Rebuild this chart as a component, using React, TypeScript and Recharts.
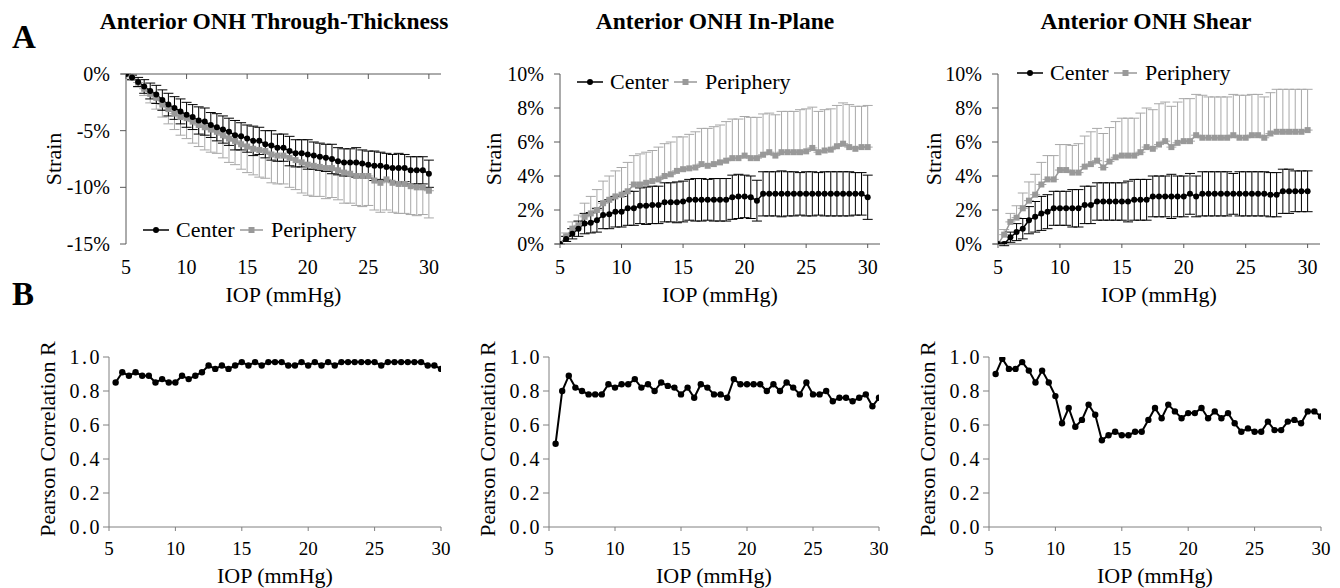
import React from 'react';
import { LineChart, Line, XAxis, YAxis, ErrorBar, Label } from 'recharts';

const FONT = 'Liberation Serif, DejaVu Serif, serif';
const GRAY = '#999999';
const GRAY_ERR = '#a8a8a8';
const AXIS_A = '#595959';
const AXIS_B = '#808080';

// IOP steps (mmHg) for the strain curves
const iop = [
  5, 5.5, 6, 6.5, 7, 7.5, 8, 8.5, 9, 9.5,
  10, 10.5, 11, 11.5, 12, 12.5, 13, 13.5, 14, 14.5,
  15, 15.5, 16, 16.5, 17, 17.5, 18, 18.5, 19, 19.5,
  20, 20.5, 21, 21.5, 22, 22.5, 23, 23.5, 24, 24.5,
  25, 25.5, 26, 26.5, 27, 27.5, 28, 28.5, 29, 29.5,
  30,
];
// IOP steps for the correlation curves
const iopR = [
  5.5, 6, 6.5, 7, 7.5, 8, 8.5, 9, 9.5, 10,
  10.5, 11, 11.5, 12, 12.5, 13, 13.5, 14, 14.5, 15,
  15.5, 16, 16.5, 17, 17.5, 18, 18.5, 19, 19.5, 20,
  20.5, 21, 21.5, 22, 22.5, 23, 23.5, 24, 24.5, 25,
  25.5, 26, 26.5, 27, 27.5, 28, 28.5, 29, 29.5, 30,
];

const iopTicks = [5, 10, 15, 20, 25, 30];
const thickTicks = [-15, -10, -5, 0];
const pctTicks = [0, 2, 4, 6, 8, 10];
const rTicks = [0, 0.2, 0.4, 0.6, 0.8, 1];

// through-thickness strain (%)
const thickCenter = [
  0, -0.3, -0.7, -1.1, -1.5, -1.8, -2.3, -2.7, -3.0, -3.3,
  -3.6, -3.8, -4.1, -4.2, -4.5, -4.7, -4.9, -5.1, -5.4, -5.5,
  -5.7, -5.9, -5.9, -6.2, -6.3, -6.5, -6.5, -6.8, -7.0, -7.0,
  -7.1, -7.2, -7.3, -7.4, -7.5, -7.7, -7.8, -7.8, -7.8, -7.9,
  -8.0, -8.1, -8.1, -8.2, -8.3, -8.3, -8.3, -8.5, -8.5, -8.5,
  -8.8,
];
const thickCenterSd = [
  0, 0.2, 0.4, 0.6, 0.7, 0.8, 0.9, 1.0, 1.0, 1.1,
  1.1, 1.1, 1.2, 1.2, 1.1, 1.2, 1.2, 1.2, 1.3, 1.2,
  1.2, 1.3, 1.2, 1.2, 1.3, 1.2, 1.2, 1.3, 1.2, 1.2,
  1.3, 1.2, 1.2, 1.2, 1.3, 1.2, 1.2, 1.2, 1.3, 1.2,
  1.2, 1.3, 1.2, 1.2, 1.2, 1.3, 1.2, 1.2, 1.2, 1.2,
  1.2,
];
const thickPeriph = [
  0, -0.35, -0.75, -1.3, -1.75, -2.1, -2.7, -3.1, -3.5, -3.8,
  -3.9, -4.2, -4.5, -4.7, -4.9, -5.1, -5.4, -5.7, -5.9, -6.2,
  -6.4, -6.6, -6.7, -6.8, -7.1, -7.2, -7.2, -7.4, -7.6, -7.8,
  -8.0, -8.1, -8.2, -8.3, -8.3, -8.5, -8.7, -8.8, -9.0, -9.0,
  -9.0, -9.4, -9.6, -9.3, -9.6, -9.7, -9.7, -9.9, -10.0, -10.0,
  -10.3,
];
const thickPeriphSd = [
  0, 0.2, 0.4, 0.6, 0.8, 1.0, 1.1, 1.3, 1.4, 1.6,
  1.8, 1.9, 1.9, 2.0, 2.0, 1.9, 2.0, 2.1, 2.1, 2.2,
  2.3, 2.3, 2.4, 2.4, 2.5, 2.5, 2.5, 2.6, 2.6, 2.7,
  2.7, 2.7, 2.6, 2.7, 2.6, 2.6, 2.7, 2.6, 2.6, 2.7,
  2.6, 2.6, 2.6, 2.7, 2.6, 2.6, 2.6, 2.5, 2.5, 2.4,
  2.4,
];

// in-plane strain (%)
const planeCenter = [
  0, 0.3, 0.6, 0.9, 1.2, 1.25, 1.4, 1.7, 1.75, 1.9,
  1.9, 2.1, 2.1, 2.25, 2.25, 2.3, 2.3, 2.45, 2.45, 2.45,
  2.5, 2.6, 2.6, 2.6, 2.6, 2.6, 2.6, 2.6, 2.75, 2.8,
  2.8, 2.75, 2.55, 2.95, 2.95, 2.95, 2.95, 2.95, 2.95, 2.95,
  2.95, 2.95, 2.95, 2.95, 2.95, 2.95, 2.95, 2.95, 2.95, 2.95,
  2.75,
];
const planeCenterSd = [
  0, 0.15, 0.3, 0.45, 0.6, 0.6, 0.7, 0.8, 0.85, 0.9,
  0.9, 1.0, 1.0, 1.05, 1.1, 1.1, 1.1, 1.15, 1.15, 1.2,
  1.2, 1.2, 1.25, 1.25, 1.2, 1.25, 1.25, 1.25, 1.3, 1.3,
  1.25, 1.25, 1.2, 1.3, 1.3, 1.3, 1.35, 1.3, 1.3, 1.25,
  1.3, 1.3, 1.25, 1.3, 1.3, 1.3, 1.3, 1.3, 1.25, 1.25,
  1.3,
];
const planePeriph = [
  0, 0.45, 0.9, 1.1, 1.6, 1.8, 2.0, 2.4, 2.6, 2.8,
  2.9, 3.1, 3.5, 3.5, 3.6, 3.7, 3.8, 4.0, 4.1, 4.3,
  4.4, 4.45, 4.5, 4.7, 4.6, 4.7, 4.8, 4.9, 5.05, 5.05,
  5.2, 5.05, 5.05, 5.25, 5.4, 5.2, 5.4, 5.4, 5.4, 5.4,
  5.45, 5.65, 5.4, 5.5, 5.55, 5.75, 5.9, 5.7, 5.6, 5.7,
  5.7,
];
const planePeriphSd = [
  0, 0.2, 0.4, 0.6, 0.8, 1.0, 1.2, 1.3, 1.4, 1.5,
  1.6, 1.7, 1.7, 1.8, 1.8, 1.8, 1.9, 1.9, 1.9, 2.0,
  1.9, 2.0, 2.1, 2.1, 2.2, 2.2, 2.2, 2.3, 2.3, 2.3,
  2.3, 2.4, 2.4, 2.4, 2.3, 2.4, 2.4, 2.4, 2.4, 2.5,
  2.5, 2.4, 2.4, 2.4, 2.4, 2.4, 2.4, 2.5, 2.5, 2.4,
  2.45,
];

// shear strain (%)
const shearCenter = [
  0, 0, 0.4, 0.7, 0.9, 1.4, 1.6, 1.8, 1.9, 2.1,
  2.1, 2.1, 2.1, 2.1, 2.3, 2.3, 2.5, 2.5, 2.5, 2.5,
  2.5, 2.5, 2.6, 2.6, 2.6, 2.8, 2.8, 2.8, 2.8, 2.8,
  2.8, 2.95, 2.8, 2.95, 2.95, 2.95, 2.95, 2.95, 2.95, 2.95,
  2.95, 2.95, 2.95, 2.95, 2.9, 2.9, 3.1, 3.1, 3.1, 3.1,
  3.1,
];
const shearCenterSd = [
  0, 0.1, 0.3, 0.5, 0.6, 0.8, 0.9, 1.0, 1.0, 1.0,
  1.0, 1.0, 1.1, 1.1, 1.1, 1.1, 1.1, 1.1, 1.1, 1.1,
  1.1, 1.2, 1.2, 1.2, 1.2, 1.2, 1.2, 1.2, 1.3, 1.2,
  1.2, 1.2, 1.2, 1.3, 1.3, 1.3, 1.3, 1.3, 1.2, 1.3,
  1.3, 1.3, 1.3, 1.3, 1.3, 1.3, 1.3, 1.3, 1.2, 1.2,
  1.2,
];
const shearPeriph = [
  0, 0.55, 1.3, 1.55, 2.1, 2.55, 2.9, 3.5, 3.8, 3.8,
  4.35, 4.35, 4.2, 4.2, 4.55, 4.7, 4.9, 4.5, 4.85, 5.1,
  5.2, 5.2, 5.2, 5.4, 5.7, 5.6, 5.85, 6.05, 5.7, 5.95,
  6.05, 6.05, 6.4, 6.25, 6.25, 6.25, 6.25, 6.25, 6.4, 6.25,
  6.25, 6.4, 6.4, 6.25, 6.5, 6.6, 6.6, 6.6, 6.6, 6.6,
  6.7,
];
const shearPeriphSd = [
  0, 0.3, 0.5, 0.7, 0.9, 1.1, 1.2, 1.3, 1.4, 1.4,
  1.5, 1.5, 1.6, 1.7, 1.8, 1.9, 1.9, 2.0, 2.0, 2.1,
  2.2, 2.2, 2.2, 2.3, 2.3, 2.3, 2.4, 2.3, 2.4, 2.4,
  2.5, 2.5, 2.4, 2.5, 2.4, 2.4, 2.4, 2.4, 2.4, 2.5,
  2.5, 2.4, 2.4, 2.4, 2.4, 2.5, 2.5, 2.5, 2.5, 2.5,
  2.4,
];

// Pearson correlation R (center vs periphery)
const rThick = [
  0.85, 0.91, 0.89, 0.91, 0.89, 0.89, 0.85, 0.87, 0.85, 0.85,
  0.89, 0.87, 0.89, 0.91, 0.95, 0.93, 0.95, 0.93, 0.95, 0.97,
  0.95, 0.97, 0.95, 0.97, 0.97, 0.97, 0.95, 0.95, 0.97, 0.95,
  0.97, 0.95, 0.97, 0.95, 0.97, 0.97, 0.97, 0.97, 0.97, 0.97,
  0.95, 0.97, 0.97, 0.97, 0.97, 0.97, 0.97, 0.95, 0.95, 0.93,
];
const rPlane = [
  0.49, 0.80, 0.89, 0.82, 0.80, 0.78, 0.78, 0.78, 0.84, 0.82,
  0.84, 0.84, 0.87, 0.82, 0.84, 0.80, 0.85, 0.83, 0.82, 0.78,
  0.82, 0.76, 0.84, 0.82, 0.78, 0.78, 0.76, 0.87, 0.84, 0.84,
  0.84, 0.84, 0.80, 0.84, 0.80, 0.85, 0.82, 0.78, 0.85, 0.78,
  0.78, 0.80, 0.74, 0.76, 0.76, 0.74, 0.76, 0.78, 0.71, 0.76,
];
const rShear = [
  0.90, 0.99, 0.93, 0.93, 0.97, 0.92, 0.85, 0.92, 0.85, 0.77,
  0.61, 0.70, 0.59, 0.63, 0.72, 0.66, 0.51, 0.54, 0.56, 0.54,
  0.54, 0.56, 0.56, 0.63, 0.70, 0.64, 0.72, 0.68, 0.64, 0.67,
  0.67, 0.70, 0.64, 0.68, 0.64, 0.67, 0.61, 0.56, 0.58, 0.56,
  0.56, 0.62, 0.57, 0.57, 0.62, 0.63, 0.61, 0.68, 0.68, 0.65,
];

const strainRows = (c: number[], cSd: number[], p: number[], pSd: number[], down: boolean) =>
  iop.map((x, i) => ({ x, c: c[i], cErr: cSd[i], p: p[i], pErr: down ? [pSd[i], 0] : [0, pSd[i]] }));
const corrRows = (r: number[]) => iopR.map((x, i) => ({ x, r: r[i] }));

const SquareDot = (props: any) => {
  const { cx, cy, index } = props;
  if (cx == null || cy == null) return <g key={`sq-${index}`} />;
  return <rect key={`sq-${index}`} x={cx - 3} y={cy - 3} width={6} height={6} fill={GRAY} />;
};

// correlation y ticks are set a little wider in the original
const CorrTick = (props: any) => {
  const { x, y, payload } = props;
  return (
    <text x={x} y={y} dy="0.355em" textAnchor="end" fill="#000" fontFamily={FONT} fontSize={20} letterSpacing={2.5}>
      {Number(payload.value).toFixed(1)}
    </text>
  );
};

const xTitle = (dy: number) => (props: any) => {
  const vb = props.viewBox || {};
  return (
    <text x={vb.x + vb.width / 2} y={vb.y + dy} textAnchor="middle" fill="#000" fontFamily={FONT} fontSize={22}>
      IOP (mmHg)
    </text>
  );
};

const yTitle = (text: string, cx: number, dy = 0) => (props: any) => {
  const vb = props.viewBox || {};
  const x = vb.x + cx;
  const y = vb.y + vb.height / 2 + dy;
  return (
    <text x={x} y={y} transform={`rotate(-90 ${x} ${y})`} textAnchor="middle" dominantBaseline="central" fill="#000" fontFamily={FONT} fontSize={22}>
      {text}
    </text>
  );
};

const A_TOP = 40;
const A_H = 270;
const B_TOP = 320;
const B_H = 268;

interface StrainProps {
  left: number;
  width: number;
  yWidth: number;
  right: number;
  rows: any[];
  yDomain: [number, number];
  yTicks: number[];
  topAxis?: boolean;
}

const StrainPanel: React.FC<StrainProps> = ({ left, width, yWidth, right, rows, yDomain, yTicks, topAxis }) => {
  const tickFont = { fill: '#000', fontSize: 20, fontFamily: FONT };
  return (
    <div style={{ position: 'absolute', left, top: A_TOP }}>
      <LineChart width={width} height={A_H} data={rows} margin={{ top: topAxis ? 33 : 34, right, bottom: 0, left: 0 }}>
        {topAxis && (
          <XAxis
            xAxisId="top"
            orientation="top"
            type="number"
            dataKey="x"
            domain={[5, 31]}
            allowDataOverflow
            ticks={iopTicks}
            interval={0}
            height={1}
            tickSize={-5}
            tickFormatter={() => ''}
            axisLine={{ stroke: AXIS_A }}
            tickLine={{ stroke: AXIS_A }}
          />
        )}
        <XAxis
          type="number"
          dataKey="x"
          domain={[5, 31]}
          allowDataOverflow
          ticks={iopTicks}
          interval={0}
          height={66}
          tickSize={4}
          tickMargin={12}
          axisLine={topAxis ? false : { stroke: AXIS_A }}
          tickLine={topAxis ? false : { stroke: AXIS_A }}
          tick={tickFont}
        >
          <Label content={xTitle(58)} />
        </XAxis>
        <YAxis
          type="number"
          domain={yDomain}
          allowDataOverflow
          ticks={yTicks}
          interval={0}
          width={yWidth}
          tickSize={6}
          tickMargin={10}
          tickFormatter={(v: number) => `${v}%`}
          axisLine={{ stroke: AXIS_A }}
          tickLine={{ stroke: AXIS_A }}
          tick={tickFont}
        >
          <Label content={yTitle('Strain', 53)} />
        </YAxis>
        <Line
          dataKey="p"
          stroke={GRAY}
          strokeWidth={1.5}
          dot={SquareDot}
          activeDot={false}
          isAnimationActive={false}
        >
          <ErrorBar dataKey="pErr" direction="y" width={5} stroke={GRAY_ERR} strokeWidth={1} isAnimationActive={false} />
        </Line>
        <Line
          dataKey="c"
          stroke="#000"
          strokeWidth={1.5}
          dot={{ r: 3, fill: '#000', stroke: '#000', strokeWidth: 0 }}
          activeDot={false}
          isAnimationActive={false}
        >
          <ErrorBar dataKey="cErr" direction="y" width={5} stroke="#000" strokeWidth={1} isAnimationActive={false} />
        </Line>
      </LineChart>
    </div>
  );
};

interface CorrProps {
  left: number;
  width: number;
  right: number;
  rows: any[];
}

const CorrPanel: React.FC<CorrProps> = ({ left, width, right, rows }) => {
  const tickFont = { fill: '#000', fontSize: 19, fontFamily: FONT };
  return (
    <div style={{ position: 'absolute', left, top: B_TOP }}>
      <LineChart width={width} height={B_H} data={rows} margin={{ top: 37, right, bottom: 0, left: 0 }}>
        <XAxis
          type="number"
          dataKey="x"
          domain={[5, 30]}
          allowDataOverflow
          ticks={iopTicks}
          interval={0}
          height={61}
          tickSize={4}
          tickMargin={11}
          axisLine={{ stroke: AXIS_B }}
          tickLine={{ stroke: AXIS_B }}
          tick={tickFont}
        >
          <Label content={xTitle(56)} />
        </XAxis>
        <YAxis
          type="number"
          domain={[0, 1]}
          allowDataOverflow
          ticks={rTicks}
          interval={0}
          width={109}
          tickSize={6}
          tickMargin={1}
          axisLine={{ stroke: AXIS_B }}
          tickLine={{ stroke: AXIS_B }}
          tick={CorrTick}
        >
          <Label content={yTitle('Pearson Correlation R', 47, -3)} />
        </YAxis>
        <Line
          dataKey="r"
          stroke="#000"
          strokeWidth={2}
          dot={{ r: 3.2, fill: '#000', stroke: '#000', strokeWidth: 0 }}
          activeDot={false}
          isAnimationActive={false}
        />
      </LineChart>
    </div>
  );
};

const LegendRow: React.FC<{ x: number; y: number }> = ({ x, y }) => (
  <g fontFamily={FONT} fontSize={22}>
    <line x1={x} y1={y} x2={x + 26} y2={y} stroke="#000" strokeWidth={1.5} />
    <circle cx={x + 13} cy={y} r={3} fill="#000" />
    <text x={x + 33} y={y + 7} fill="#000">Center</text>
    <line x1={x + 97} y1={y} x2={x + 120} y2={y} stroke={GRAY} strokeWidth={1.5} />
    <rect x={x + 105.5} y={y - 3} width={6} height={6} fill={GRAY} />
    <text x={x + 128} y={y + 7} fill="#000">Periphery</text>
  </g>
);

const App: React.FC = () => {
  const thickRows = strainRows(thickCenter, thickCenterSd, thickPeriph, thickPeriphSd, true);
  const planeRows = strainRows(planeCenter, planeCenterSd, planePeriph, planePeriphSd, false);
  const shearRows = strainRows(shearCenter, shearCenterSd, shearPeriph, shearPeriphSd, false);

  return (
    <div style={{ position: 'absolute', left: 0, top: 0, width: 1340, height: 588, background: '#fff', overflow: 'hidden', fontFamily: FONT }}>
      <StrainPanel left={0} width={460} yWidth={126} right={19} rows={thickRows} yDomain={[-15, 0]} yTicks={thickTicks} topAxis />
      <StrainPanel left={440} width={450} yWidth={120} right={10} rows={planeRows} yDomain={[0, 10]} yTicks={pctTicks} />
      <StrainPanel left={880} width={460} yWidth={118} right={20} rows={shearRows} yDomain={[0, 10]} yTicks={pctTicks} />

      <CorrPanel left={0} width={460} right={19} rows={corrRows(rThick)} />
      <CorrPanel left={440} width={450} right={11} rows={corrRows(rPlane)} />
      <CorrPanel left={880} width={460} right={19} rows={corrRows(rShear)} />

      <svg width={1340} height={588} style={{ position: 'absolute', left: 0, top: 0, pointerEvents: 'none' }}>
        <g fontFamily={FONT} fontWeight="bold" fill="#000">
          <text x={12} y={48} fontSize={33}>A</text>
          <text x={12} y={305} fontSize={33}>B</text>
          <text x={274} y={29} fontSize={23.5} textAnchor="middle">Anterior ONH Through-Thickness</text>
          <text x={715} y={29} fontSize={23.5} textAnchor="middle">Anterior ONH In-Plane</text>
          <text x={1146} y={29} fontSize={23.5} textAnchor="middle">Anterior ONH Shear</text>
        </g>
        <LegendRow x={143} y={230} />
        <LegendRow x={577} y={82} />
        <LegendRow x={1017} y={73} />
      </svg>
    </div>
  );
};

export default App;
